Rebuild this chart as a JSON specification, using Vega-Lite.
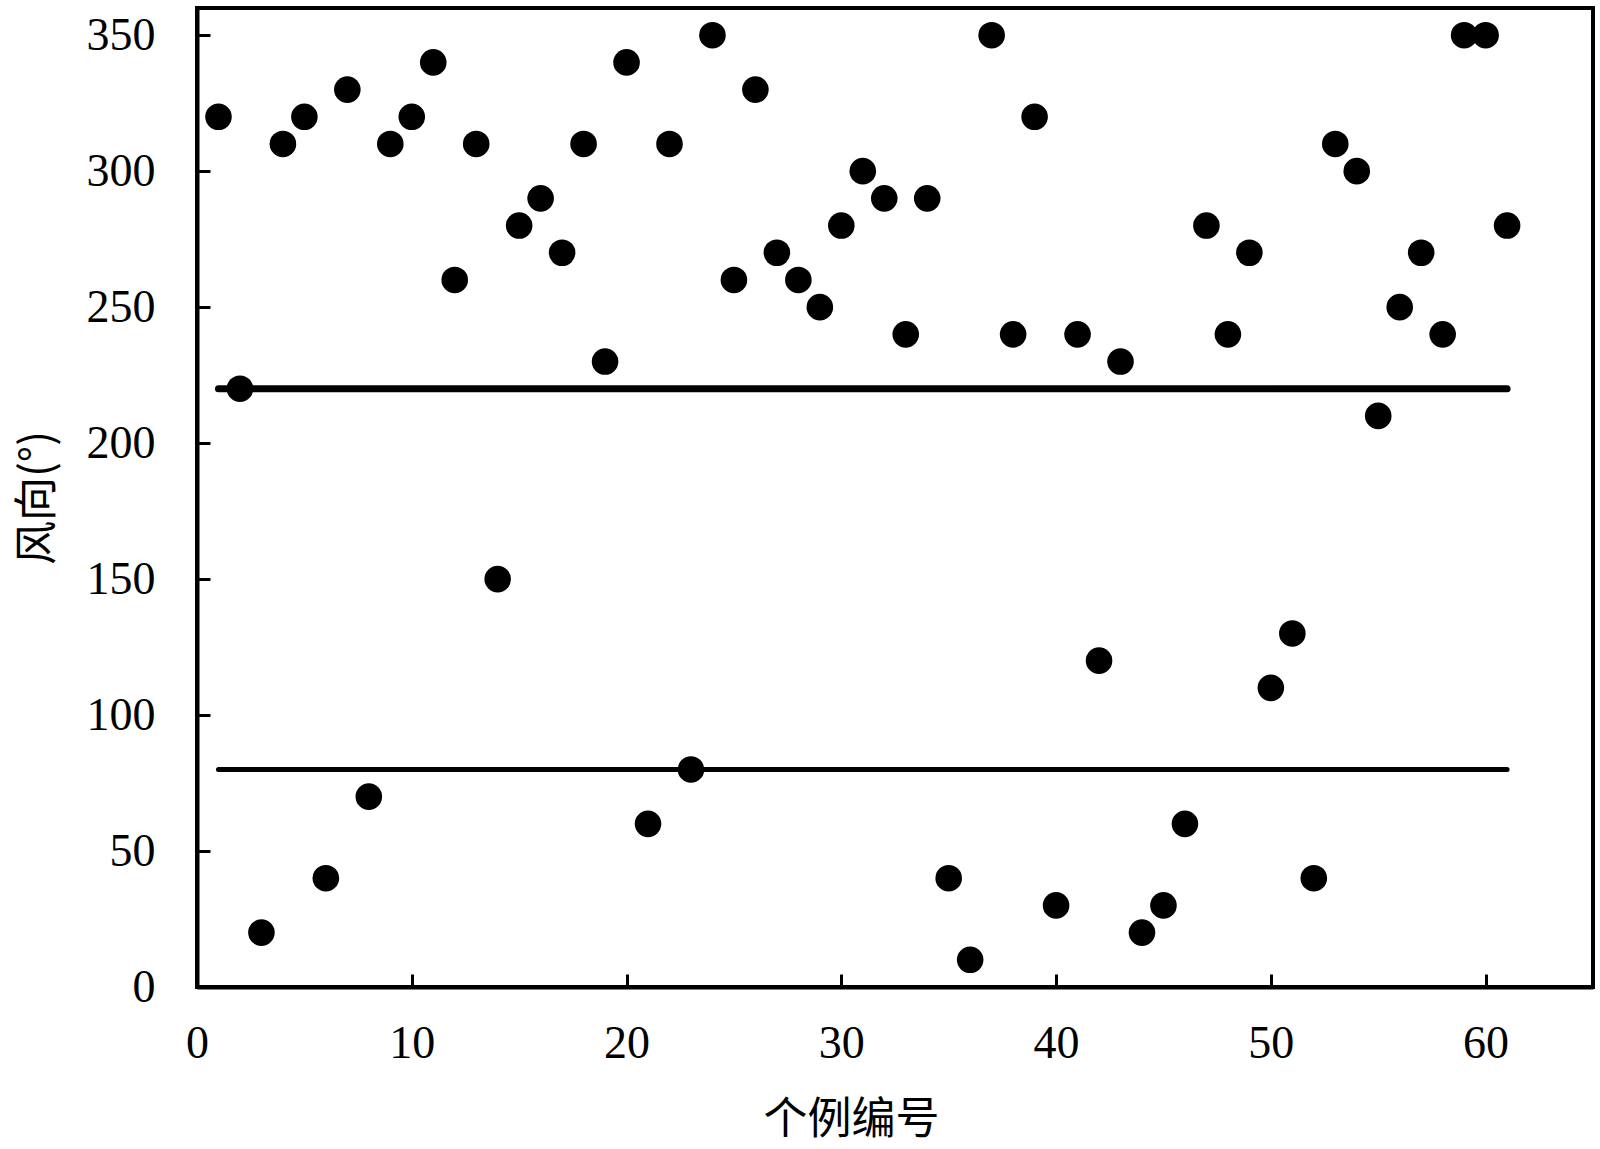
{
  "$schema": "https://vega.github.io/schema/vega-lite/v6.json",
  "autosize": "none",
  "width": 1396,
  "height": 979,
  "padding": {"left": 197, "top": 8, "right": 7, "bottom": 162},
  "background": "white",
  "config": {
    "view": {"stroke": "black", "strokeWidth": 4},
    "axis": {
      "grid": false,
      "zindex": 1,
      "domainColor": "black",
      "domainWidth": 4,
      "tickColor": "black",
      "tickWidth": 3,
      "tickSize": -13,
      "labelFlush": false,
      "labelFont": "Liberation Serif",
      "labelFontSize": 46,
      "labelColor": "black",
      "titleFont": "Noto Sans CJK SC",
      "titleFontSize": 44,
      "titleFontWeight": "normal",
      "titleColor": "black"
    }
  },
  "datasets": {
    "pts": [
      {"n": 1, "dir": 320}, {"n": 2, "dir": 220}, {"n": 3, "dir": 20}, {"n": 4, "dir": 310},
      {"n": 5, "dir": 320}, {"n": 6, "dir": 40}, {"n": 7, "dir": 330}, {"n": 8, "dir": 70},
      {"n": 9, "dir": 310}, {"n": 10, "dir": 320}, {"n": 11, "dir": 340}, {"n": 12, "dir": 260},
      {"n": 13, "dir": 310}, {"n": 14, "dir": 150}, {"n": 15, "dir": 280}, {"n": 16, "dir": 290},
      {"n": 17, "dir": 270}, {"n": 18, "dir": 310}, {"n": 19, "dir": 230}, {"n": 20, "dir": 340},
      {"n": 21, "dir": 60}, {"n": 22, "dir": 310}, {"n": 23, "dir": 80}, {"n": 24, "dir": 350},
      {"n": 25, "dir": 260}, {"n": 26, "dir": 330}, {"n": 27, "dir": 270}, {"n": 28, "dir": 260},
      {"n": 29, "dir": 250}, {"n": 30, "dir": 280}, {"n": 31, "dir": 300}, {"n": 32, "dir": 290},
      {"n": 33, "dir": 240}, {"n": 34, "dir": 290}, {"n": 35, "dir": 40}, {"n": 36, "dir": 10},
      {"n": 37, "dir": 350}, {"n": 38, "dir": 240}, {"n": 39, "dir": 320}, {"n": 40, "dir": 30},
      {"n": 41, "dir": 240}, {"n": 42, "dir": 120}, {"n": 43, "dir": 230}, {"n": 44, "dir": 20},
      {"n": 45, "dir": 30}, {"n": 46, "dir": 60}, {"n": 47, "dir": 280}, {"n": 48, "dir": 240},
      {"n": 49, "dir": 270}, {"n": 50, "dir": 110}, {"n": 51, "dir": 130}, {"n": 52, "dir": 40},
      {"n": 53, "dir": 310}, {"n": 54, "dir": 300}, {"n": 55, "dir": 210}, {"n": 56, "dir": 250},
      {"n": 57, "dir": 270}, {"n": 58, "dir": 240}, {"n": 59, "dir": 350}, {"n": 60, "dir": 350},
      {"n": 61, "dir": 280}
    ],
    "upper": [{"start": 1, "end": 61, "level": 220}],
    "lower": [{"start": 1, "end": 61, "level": 80}]
  },
  "layer": [
    {
      "data": {"name": "upper"},
      "mark": {"type": "rule", "color": "black", "strokeWidth": 7, "strokeCap": "round"},
      "encoding": {
        "x": {"field": "start", "type": "quantitative", "scale": {"domain": [0, 65], "nice": false, "zero": false},
              "axis": {"values": [0, 10, 20, 30, 40, 50, 60], "title": "个例编号", "labelPadding": 47, "titlePadding": 32, "titleX": 654}},
        "x2": {"field": "end"},
        "y": {"field": "level", "type": "quantitative", "scale": {"domain": [0, 360], "nice": false},
              "axis": {"values": [0, 50, 100, 150, 200, 250, 300, 350], "title": "风向(°)", "labelPadding": 55, "titlePadding": 26}}
      }
    },
    {
      "data": {"name": "lower"},
      "mark": {"type": "rule", "color": "black", "strokeWidth": 5, "strokeCap": "round"},
      "encoding": {
        "x": {"field": "start", "type": "quantitative"},
        "x2": {"field": "end"},
        "y": {"field": "level", "type": "quantitative"}
      }
    },
    {
      "data": {"name": "pts"},
      "mark": {"type": "point", "shape": "circle", "filled": true, "color": "black", "opacity": 1, "size": 707},
      "encoding": {
        "x": {"field": "n", "type": "quantitative"},
        "y": {"field": "dir", "type": "quantitative"}
      }
    }
  ]
}
